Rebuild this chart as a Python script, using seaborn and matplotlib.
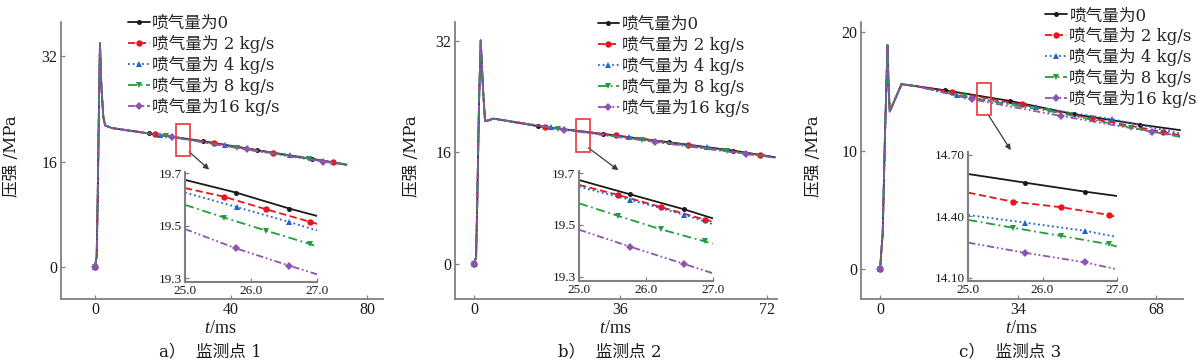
import matplotlib
matplotlib.use('Agg')
import matplotlib.pyplot as plt
import seaborn as sns
from matplotlib.patches import Rectangle

# ---------------- data ----------------
labels = ['喷气量为0', '喷气量为 2 kg/s', '喷气量为 4 kg/s', '喷气量为 8 kg/s', '喷气量为16 kg/s']
captions = ['a）  监测点 1', 'b）  监测点 2', 'c）  监测点 3']

# panel a (monitoring point 1): shared start-up part, then per-series tail
a_head_t = [0, 0.5, 0.8, 1.2, 1.47, 1.85, 2.45, 3.0, 5.0]
a_head_p = [0, 1.6, 10.2, 25.3, 34.0, 27.9, 22.8, 21.5, 21.1]
a0_t = [15.97, 31.85, 47.6, 63.7, 74.0]
a0_p = [20.28, 19.10, 17.74, 16.42, 15.55]
a2_t = [17.6, 35.0, 52.3, 70.1, 74.0]
a2_p = [20.17, 18.85, 17.35, 15.90, 15.55]
a4_t = [19.1, 38.2, 57.4, 74.0]
a4_p = [20.05, 18.50, 16.98, 15.55]
a8_t = [20.9, 41.7, 63.0, 74.0]
a8_p = [19.90, 18.10, 16.45, 15.50]
a16_t = [22.6, 44.6, 67.1, 74.0]
a16_p = [19.75, 17.85, 16.00, 15.50]

# panel b (monitoring point 2)
b_head_t = [0, 0.5, 0.8, 1.23, 1.65, 2.2, 2.7, 3.5, 4.75]
b_head_p = [0, 0.9, 9.0, 23.3, 32.1, 25.2, 20.5, 20.6, 20.86]
b0_t = [15.8, 31.8, 48.0, 63.8, 74.0]
b0_p = [19.76, 18.65, 17.45, 16.25, 15.30]
b2_t = [17.5, 34.9, 52.7, 70.2, 74.0]
b2_p = [19.66, 18.43, 17.05, 15.65, 15.30]
b4_t = [18.9, 38.1, 57.4, 74.0]
b4_p = [19.60, 18.15, 16.75, 15.30]
b8_t = [20.6, 41.4, 62.2, 74.0]
b8_p = [19.40, 17.80, 16.20, 15.25]
b16_t = [22.2, 44.5, 66.9, 74.0]
b16_p = [19.25, 17.50, 15.75, 15.25]

# panel c (monitoring point 3)
c_head_t = [0, 0.66, 1.23, 1.85, 2.1, 2.4, 5.3, 8.6]
c_head_p = [0, 3.0, 11.4, 18.9, 15.5, 13.3, 15.6, 15.45]
c0_t = [16.0, 32.0, 47.8, 63.9, 73.9]
c0_p = [15.09, 14.19, 13.07, 12.20, 11.73]
c2_t = [17.65, 34.9, 52.1, 69.6, 73.9]
c2_p = [14.95, 13.89, 12.71, 11.58, 11.30]
c4_t = [19.0, 38.4, 57.2, 73.9]
c4_p = [14.67, 13.64, 12.65, 11.45]
c8_t = [20.9, 41.5, 61.8, 73.9]
c8_p = [14.53, 13.35, 11.95, 11.16]
c16_t = [22.6, 44.5, 66.9, 73.9]
c16_p = [14.33, 12.93, 11.60, 11.25]

# insets (t = 25 ... 27 ms)
ia0_t = [25.0, 25.77, 26.58, 27.0]
ia0_p = [19.674, 19.626, 19.565, 19.537]
ia2_t = [25.0, 25.59, 26.23, 26.89, 27.0]
ia2_p = [19.643, 19.610, 19.562, 19.515, 19.507]
ia4_t = [25.0, 25.78, 26.58, 27.0]
ia4_p = [19.626, 19.571, 19.514, 19.482]
ia8_t = [25.0, 25.59, 26.23, 26.90, 27.0]
ia8_p = [19.579, 19.531, 19.481, 19.430, 19.420]
ia16_t = [25.0, 25.77, 26.58, 27.0]
ia16_p = [19.487, 19.414, 19.348, 19.315]

ib0_t = [25.0, 25.76, 26.57, 27.0]
ib0_p = [19.673, 19.618, 19.560, 19.525]
ib2_t = [25.0, 25.59, 26.23, 26.88, 27.0]
ib2_p = [19.654, 19.615, 19.568, 19.520, 19.512]
ib4_t = [25.0, 25.76, 26.57, 27.0]
ib4_p = [19.647, 19.597, 19.539, 19.503]
ib8_t = [25.0, 25.59, 26.23, 26.88, 27.0]
ib8_p = [19.583, 19.534, 19.482, 19.436, 19.427]
ib16_t = [25.0, 25.76, 26.57, 27.0]
ib16_p = [19.481, 19.416, 19.349, 19.313]

ic0_t = [25.0, 25.76, 26.57, 27.0]
ic0_p = [14.607, 14.565, 14.521, 14.500]
ic2_t = [25.0, 25.60, 26.25, 26.90, 27.0]
ic2_p = [14.516, 14.472, 14.445, 14.407, 14.396]
ic4_t = [25.0, 25.76, 26.57, 27.0]
ic4_p = [14.407, 14.370, 14.330, 14.300]
ic8_t = [25.0, 25.60, 26.25, 26.90, 27.0]
ic8_p = [14.383, 14.345, 14.305, 14.264, 14.253]
ic16_t = [25.0, 25.76, 26.57, 27.0]
ic16_p = [14.272, 14.223, 14.176, 14.142]

# ticks
a_xticks = [0, 40, 80]
a_yticks = [0, 16, 32]
b_xticks = [0, 36, 72]
b_yticks = [0, 16, 32]
c_xticks = [0, 34, 68]
c_yticks = [0, 10, 20]
in_xticks = [25.0, 26.0, 27.0]
iab_yticks = [19.3, 19.5, 19.7]
ic_yticks = [14.10, 14.40, 14.70]

# zoom window [t0, p0, t1, p1] and arrow [t_start, p_start, t_end, p_end]
a_box = [23.7, 16.8, 27.9, 21.7]
a_arrow = [27.7, 17.5, 33.6, 14.8]
b_box = [25.0, 16.09, 28.5, 20.86]
b_arrow = [28.1, 16.66, 35.5, 13.43]
c_box = [23.8, 12.99, 27.3, 15.74]
c_arrow = [26.7, 13.0, 32.2, 10.04]

# ---------------- style ----------------
sns.set_theme(style='ticks')
plt.rcParams['font.family'] = ['Liberation Serif', 'Noto Sans CJK SC']
plt.rcParams['mathtext.fontset'] = 'custom'
plt.rcParams['mathtext.it'] = 'Liberation Serif:italic'
plt.rcParams['mathtext.rm'] = 'Liberation Serif'
plt.rcParams['axes.unicode_minus'] = False

colors = ['#1a1a1a', '#e8141e', '#1f63d0', '#1e9e3c', '#8e52b5']
styles = ['-', (0, (4, 2)), (0, (1, 1.6)), (0, (5, 2, 1, 2)), (0, (4, 1.5, 1, 1.5, 1, 1.5))]
markers = ['o', 'o', '^', 'v', 'D']
msize = [3.6, 4.6, 4.6, 4.6, 3.8]
SPINE = '#808080'
TXT = '#1a1a1a'
LEG_FONT = ['DejaVu Serif', 'Noto Sans CJK SC']

fig = plt.figure(figsize=(12, 3.62), dpi=100)

panels = [
    dict(pos=[0.0508, 0.174, 0.2683, 0.7652], xlim=(-10, 84.7), ylim=(-4.85, 37.2),
         xt=a_xticks, yt=a_yticks, head=(a_head_t, a_head_p),
         tails=[(a0_t, a0_p), (a2_t, a2_p), (a4_t, a4_p), (a8_t, a8_p), (a16_t, a16_p)],
         inset_pos=[0.1542, 0.221, 0.110, 0.3039], inset_ylim=(19.286, 19.704),
         inset_yt=iab_yticks, inset_fmt='%.1f',
         ins=[(ia0_t, ia0_p), (ia2_t, ia2_p), (ia4_t, ia4_p), (ia8_t, ia8_p), (ia16_t, ia16_p)],
         box=a_box, arrow=a_arrow, leg=(0.1067, 0.959), ylab_x=-0.128, cap_x=0.175),
    dict(pos=[0.3792, 0.174, 0.2683, 0.7652], xlim=(-4.67, 74.5), ylim=(-5.1, 34.76),
         xt=b_xticks, yt=b_yticks, head=(b_head_t, b_head_p),
         tails=[(b0_t, b0_p), (b2_t, b2_p), (b4_t, b4_p), (b8_t, b8_p), (b16_t, b16_p)],
         inset_pos=[0.4825, 0.2238, 0.1114, 0.3047], inset_ylim=(19.283, 19.709),
         inset_yt=iab_yticks, inset_fmt='%.1f',
         ins=[(ib0_t, ib0_p), (ib2_t, ib2_p), (ib4_t, ib4_p), (ib8_t, ib8_p), (ib16_t, ib16_p)],
         box=b_box, arrow=b_arrow, leg=(0.498, 0.957), ylab_x=-0.108, cap_x=0.508),
    dict(pos=[0.7175, 0.174, 0.2683, 0.7652], xlim=(-4.68, 74.6), ylim=(-2.5, 20.84),
         xt=c_xticks, yt=c_yticks, head=(c_head_t, c_head_p),
         tails=[(c0_t, c0_p), (c2_t, c2_p), (c4_t, c4_p), (c8_t, c8_p), (c16_t, c16_p)],
         inset_pos=[0.8069, 0.2238, 0.1237, 0.3572], inset_ylim=(14.085, 14.716),
         inset_yt=ic_yticks, inset_fmt='%.2f',
         ins=[(ic0_t, ic0_p), (ic2_t, ic2_p), (ic4_t, ic4_p), (ic8_t, ic8_p), (ic16_t, ic16_p)],
         box=c_box, arrow=c_arrow, leg=(0.871, 0.980), ylab_x=-0.12, cap_x=0.842),
]


def style_axes(ax, lw, labelsize):
    for s in ['top', 'right']:
        ax.spines[s].set_visible(False)
    for s in ['left', 'bottom']:
        ax.spines[s].set_color(SPINE)
        ax.spines[s].set_linewidth(lw)
    ax.tick_params(direction='in', length=3, width=0.9, color=SPINE,
                   labelsize=labelsize, labelcolor=TXT, pad=2.5)
    ax.set_facecolor('none')


for k, P in enumerate(panels):
    ax = fig.add_axes(P['pos'])
    ht, hp = P['head']
    for i, (tt, pp) in enumerate(P['tails']):
        t = list(ht) + list(tt)
        p = list(hp) + list(pp)
        marks = [0] + list(range(len(ht), len(t) - 1))
        sns.lineplot(x=t, y=p, ax=ax, sort=False, estimator=None,
                     color=colors[i], linestyle=styles[i], linewidth=1.3,
                     marker=markers[i], markersize=msize[i], markevery=marks,
                     markeredgewidth=0, markeredgecolor=colors[i], label=labels[i])
    ax.set_xlim(*P['xlim'])
    ax.set_ylim(*P['ylim'])
    ax.set_xticks(P['xt'])
    ax.set_yticks(P['yt'])
    style_axes(ax, 1.3, 11.5)
    ax.set_xlabel(r'$t$/ms', fontsize=13, color=TXT)
    ax.xaxis.set_label_coords(0.496, -0.075)
    ax.set_ylabel('压强 /MPa', fontsize=12, color=TXT, family=LEG_FONT)
    ax.yaxis.set_label_coords(P['ylab_x'], 0.515)

    b = P['box']
    ax.add_patch(Rectangle((b[0], b[1]), b[2] - b[0], b[3] - b[1], fill=False,
                           ec='#e8383a', lw=1.2, zorder=5))
    ar = P['arrow']
    ax.annotate('', xy=(ar[2], ar[3]), xytext=(ar[0], ar[1]),
                arrowprops=dict(arrowstyle='-|>', color='#3a3a3a', lw=0.9,
                                mutation_scale=8, shrinkA=0, shrinkB=0))

    handles, labs = ax.get_legend_handles_labels()
    ax.legend(handles, labs, loc='upper left', bbox_to_anchor=P['leg'],
              bbox_transform=fig.transFigure, frameon=False, borderpad=0,
              borderaxespad=0, handlelength=1.3, handletextpad=0.15,
              labelspacing=0.18, prop={'family': LEG_FONT, 'size': 12})

    # inset
    ins = fig.add_axes(P['inset_pos'])
    for i, (tt, pp) in enumerate(P['ins']):
        marks = list(range(1, len(tt) - 1))
        sns.lineplot(x=tt, y=pp, ax=ins, sort=False, estimator=None,
                     color=colors[i], linestyle=styles[i], linewidth=1.3,
                     marker=markers[i], markersize=msize[i], markevery=marks,
                     markeredgewidth=0, markeredgecolor=colors[i], legend=False)
    ins.set_xlim(25.0, 27.0)
    ins.set_ylim(*P['inset_ylim'])
    ins.set_xticks(in_xticks)
    ins.set_yticks(P['inset_yt'])
    ins.set_xticklabels(['%.1f' % v for v in in_xticks])
    ins.set_yticklabels([P['inset_fmt'] % v for v in P['inset_yt']])
    style_axes(ins, 1.5, 9.5)
    ins.set_xlabel('')
    ins.set_ylabel('')

    fig.text(P['cap_x'], 0.027, captions[k], ha='center', va='center',
             fontsize=12, color=TXT, family=LEG_FONT)

fig.savefig('out.png', dpi=100)
